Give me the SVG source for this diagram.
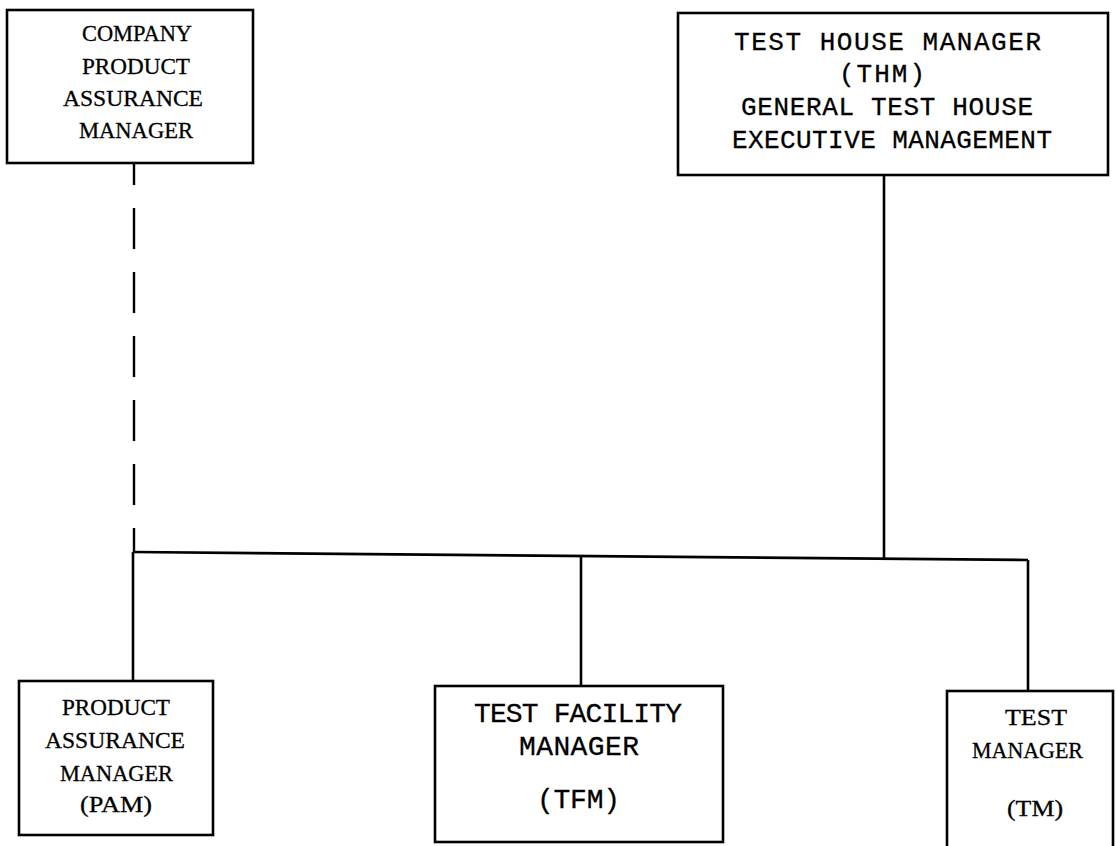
<svg xmlns="http://www.w3.org/2000/svg" width="1116" height="846" viewBox="0 0 1116 846">
<style>
.box{fill:none;stroke:#000;stroke-width:2.6}
.ln{fill:none;stroke:#000;stroke-width:2.6}
.dash{fill:none;stroke:#000;stroke-width:2.4;stroke-dasharray:41 23;stroke-dashoffset:19}
.serif{font-family:"Liberation Serif","Times New Roman",serif;font-size:24px;fill:#000;stroke:#000;stroke-width:0.3}
.mono{font-family:"Liberation Mono","Courier New",monospace;font-size:26px;fill:#000;stroke:#000;stroke-width:0.3}
.mono2{font-family:"Liberation Mono","Courier New",monospace;font-size:28px;fill:#000;stroke:#000;stroke-width:0.3}
</style>
<rect width="1116" height="846" fill="#fff"/>
<g id="connectors">
<path class="dash" d="M134 163 V552"/>
<path class="ln" d="M133 552 L1028 560"/>
<path class="ln" d="M884 175 V559"/>
<path class="ln" d="M133 552 V681"/>
<path class="ln" d="M581 556 V686"/>
<path class="ln" d="M1028 560 V691"/>
</g>
<g id="cpam">
<rect class="box" x="7" y="10" width="246" height="153"/>
<text class="serif" x="82" y="41" textLength="110" lengthAdjust="spacingAndGlyphs">COMPANY</text>
<text class="serif" x="82" y="74" textLength="108" lengthAdjust="spacingAndGlyphs">PRODUCT</text>
<text class="serif" x="63" y="106" textLength="140" lengthAdjust="spacingAndGlyphs">ASSURANCE</text>
<text class="serif" x="79" y="138" textLength="114" lengthAdjust="spacingAndGlyphs">MANAGER</text>
</g>
<g id="thm">
<rect class="box" x="678" y="13" width="430" height="162"/>
<text class="mono" x="734" y="50" textLength="307" lengthAdjust="spacing">TEST HOUSE MANAGER</text>
<text class="mono" x="839" y="82" textLength="86" lengthAdjust="spacing">(THM)</text>
<text class="mono" x="741" y="115" textLength="292" lengthAdjust="spacing">GENERAL TEST HOUSE</text>
<text class="mono" x="732" y="148" textLength="320" lengthAdjust="spacing">EXECUTIVE MANAGEMENT</text>
</g>
<g id="pam">
<rect class="box" x="19" y="681" width="194" height="154"/>
<text class="serif" x="62" y="715" textLength="108" lengthAdjust="spacingAndGlyphs">PRODUCT</text>
<text class="serif" x="45" y="748" textLength="140" lengthAdjust="spacingAndGlyphs">ASSURANCE</text>
<text class="serif" x="60" y="781" textLength="113" lengthAdjust="spacingAndGlyphs">MANAGER</text>
<text class="serif" x="80" y="812" textLength="72" lengthAdjust="spacingAndGlyphs">(PAM)</text>
</g>
<g id="tfm">
<rect class="box" x="435" y="686" width="288" height="156"/>
<text class="mono2" x="474" y="722" textLength="208" lengthAdjust="spacing">TEST FACILITY</text>
<text class="mono2" x="519" y="755" textLength="120" lengthAdjust="spacing">MANAGER</text>
<text class="mono2" x="537" y="808" textLength="83" lengthAdjust="spacing">(TFM)</text>
</g>
<g id="tm">
<rect class="box" x="947" y="691" width="166" height="170"/>
<text class="serif" x="1005" y="725" textLength="62" lengthAdjust="spacingAndGlyphs">TEST</text>
<text class="serif" x="972" y="758" textLength="111" lengthAdjust="spacingAndGlyphs">MANAGER</text>
<text class="serif" x="1007" y="816" textLength="56" lengthAdjust="spacingAndGlyphs">(TM)</text>
</g>
</svg>
